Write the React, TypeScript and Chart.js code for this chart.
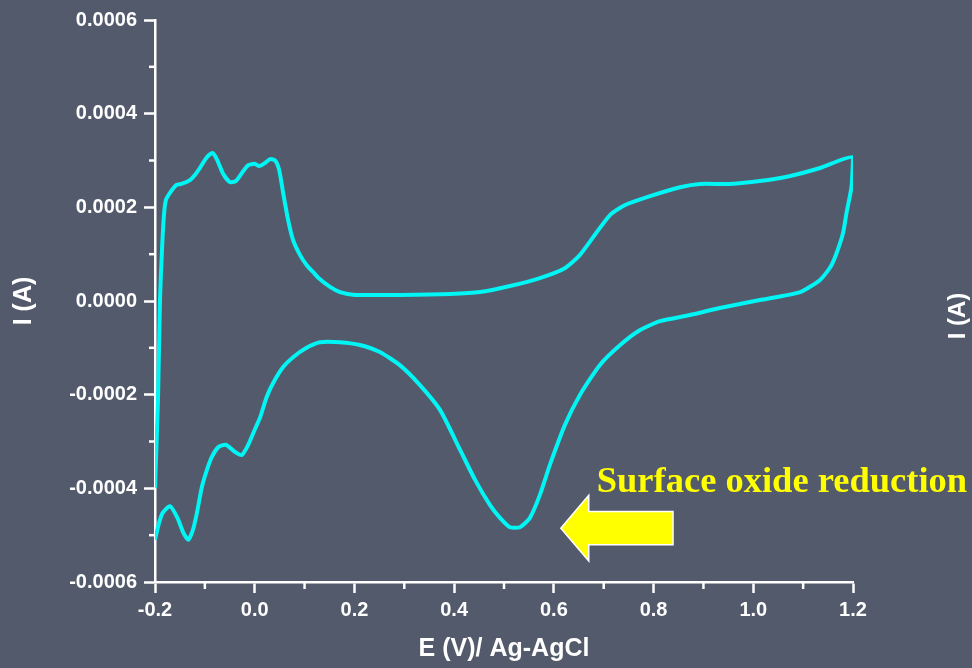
import React, { useEffect, useRef } from "react";
import { Chart, registerables } from "chart.js";

Chart.register(...registerables);

// Anodic (forward) sweep: potential (V vs Ag/AgCl) and current (A)
const anodicE = [
  -0.2, -0.194, -0.19, -0.186, -0.182, -0.178, -0.17, -0.157, -0.147, -0.13, -0.12, -0.11,
  -0.096, -0.085, -0.076, -0.064, -0.05, -0.038, -0.026, -0.013, 0.0, 0.009, 0.021, 0.031,
  0.041, 0.049, 0.057, 0.067, 0.077, 0.091, 0.104, 0.117, 0.128, 0.151, 0.171, 0.201, 0.291,
  0.392, 0.452, 0.512, 0.572, 0.622, 0.652, 0.682, 0.713, 0.743, 0.793, 0.853, 0.893, 0.953,
  1.013, 1.074, 1.134, 1.2,
];
const anodicI = [
  -3.99e-4, -2.11e-4, 0.02e-4, 1.09e-4, 1.84e-4, 2.16e-4, 2.31e-4, 2.48e-4, 2.5e-4, 2.58e-4,
  2.69e-4, 2.84e-4, 3.07e-4, 3.16e-4, 3.03e-4, 2.73e-4, 2.54e-4, 2.56e-4, 2.73e-4, 2.9e-4,
  2.93e-4, 2.88e-4, 2.95e-4, 3.03e-4, 3.0e-4, 2.8e-4, 2.31e-4, 1.73e-4, 1.3e-4, 0.98e-4,
  0.77e-4, 0.62e-4, 0.49e-4, 0.3e-4, 0.19e-4, 0.13e-4, 0.13e-4, 0.15e-4, 0.19e-4, 0.32e-4,
  0.49e-4, 0.7e-4, 0.98e-4, 1.41e-4, 1.84e-4, 2.05e-4, 2.24e-4, 2.43e-4, 2.5e-4, 2.5e-4,
  2.56e-4, 2.67e-4, 2.84e-4, 3.07e-4,
];

// Cathodic (reverse) sweep
const cathodicE = [
  1.197, 1.187, 1.18, 1.167, 1.155, 1.134, 1.094, 1.013, 0.933, 0.873, 0.813, 0.773, 0.733,
  0.692, 0.652, 0.622, 0.592, 0.572, 0.552, 0.532, 0.512, 0.492, 0.472, 0.442, 0.412, 0.372,
  0.331, 0.291, 0.251, 0.211, 0.171, 0.131, 0.104, 0.077, 0.057, 0.037, 0.024, 0.011, 0.0,
  -0.013, -0.026, -0.04, -0.058, -0.073, -0.086, -0.096, -0.106, -0.116, -0.124, -0.133,
  -0.143, -0.155, -0.17, -0.185, -0.193, -0.2,
];
const cathodicI = [
  2.44e-4, 1.88e-4, 1.45e-4, 1.02e-4, 0.73e-4, 0.45e-4, 0.19e-4, 0.02e-4, -0.15e-4, -0.3e-4,
  -0.43e-4, -0.62e-4, -0.94e-4, -1.37e-4, -2.01e-4, -2.65e-4, -3.5e-4, -4.14e-4, -4.63e-4,
  -4.83e-4, -4.83e-4, -4.63e-4, -4.36e-4, -3.82e-4, -3.18e-4, -2.33e-4, -1.79e-4, -1.37e-4,
  -1.09e-4, -0.94e-4, -0.88e-4, -0.88e-4, -1.0e-4, -1.2e-4, -1.41e-4, -1.75e-4, -2.05e-4,
  -2.48e-4, -2.75e-4, -3.07e-4, -3.29e-4, -3.22e-4, -3.07e-4, -3.12e-4, -3.33e-4, -3.61e-4,
  -3.97e-4, -4.53e-4, -4.89e-4, -5.1e-4, -4.95e-4, -4.63e-4, -4.38e-4, -4.53e-4, -4.78e-4,
  -5.1e-4,
];

// Axis ranges / tick steps
const xRange = [-0.2, 1.2];
const xMinorStep = 0.1;
const yRange = [-0.0006, 0.0006];
const yMinorStep = 0.0001;

const xTitle = "E (V)/ Ag-AgCl";
const yTitle = "I (A)";
const annotationText = "Surface oxide reduction";
const strayText = "I (A)";

// Annotation arrow anchor points in data units (E, I)
const arrowTip = [0.614, -4.85e-4];
const arrowHeadBack = 0.67;
const arrowHeadHalf = 0.7e-4;
const arrowShaftHalf = 0.355e-4;
const arrowTail = 0.839;
const textAnchor = [0.686, -4.08e-4];

const BG = "#525a6b";
const CYAN = "#00f5f5";
const SANS = "'Liberation Sans', Arial, sans-serif";

export default function App() {
  const ref = useRef<HTMLCanvasElement | null>(null);

  useEffect(() => {
    const canvas = ref.current;
    if (!canvas) return;

    const points = [
      ...anodicE.map((e, i) => ({ x: e, y: anodicI[i] })),
      ...cathodicE.map((e, i) => ({ x: e, y: cathodicI[i] })),
    ];

    const isMajor = (v: number, step: number) => Math.abs(Math.round(v / step)) % 2 === 0;
    const fmt = (v: number, step: number, digits: number) => {
      const r = Math.round(v / step) * step;
      return Math.abs(r) < step / 10 ? (0).toFixed(digits) : r.toFixed(digits);
    };

    const bgPlugin = {
      id: "bg",
      beforeDraw(chart: any) {
        const { ctx, width, height } = chart;
        ctx.save();
        ctx.fillStyle = BG;
        ctx.fillRect(0, 0, width, height);
        ctx.restore();
      },
    };

    const extrasPlugin = {
      id: "extras",
      afterDraw(chart: any) {
        const { ctx, scales, chartArea } = chart;
        const xs = scales.x;
        const ys = scales.y;
        ctx.save();
        // minor ticks
        ctx.strokeStyle = "#ffffff";
        ctx.lineWidth = 2.5;
        const nx = Math.round((xRange[1] - xRange[0]) / xMinorStep);
        for (let k = 0; k <= nx; k++) {
          const v = xRange[0] + k * xMinorStep;
          if (isMajor(v, xMinorStep)) continue;
          const px = xs.getPixelForValue(v);
          ctx.beginPath();
          ctx.moveTo(px, chartArea.bottom);
          ctx.lineTo(px, chartArea.bottom + 7);
          ctx.stroke();
        }
        const ny = Math.round((yRange[1] - yRange[0]) / yMinorStep);
        for (let k = 0; k <= ny; k++) {
          const v = yRange[0] + k * yMinorStep;
          if (isMajor(v, yMinorStep)) continue;
          const py = ys.getPixelForValue(v);
          ctx.beginPath();
          ctx.moveTo(chartArea.left, py);
          ctx.lineTo(chartArea.left - 6, py);
          ctx.stroke();
        }

        // arrow
        const tx = xs.getPixelForValue(arrowTip[0]);
        const ty = ys.getPixelForValue(arrowTip[1]);
        const hb = xs.getPixelForValue(arrowHeadBack);
        const tail = xs.getPixelForValue(arrowTail);
        const hTop = ys.getPixelForValue(arrowTip[1] + arrowHeadHalf);
        const hBot = ys.getPixelForValue(arrowTip[1] - arrowHeadHalf);
        const sTop = ys.getPixelForValue(arrowTip[1] + arrowShaftHalf);
        const sBot = ys.getPixelForValue(arrowTip[1] - arrowShaftHalf);
        ctx.beginPath();
        ctx.moveTo(tx, ty);
        ctx.lineTo(hb, hTop);
        ctx.lineTo(hb, sTop);
        ctx.lineTo(tail, sTop);
        ctx.lineTo(tail, sBot);
        ctx.lineTo(hb, sBot);
        ctx.lineTo(hb, hBot);
        ctx.closePath();
        ctx.fillStyle = "#ffff00";
        ctx.fill();
        ctx.strokeStyle = "#ffffff";
        ctx.lineWidth = 1.5;
        ctx.stroke();

        // annotation text
        ctx.fillStyle = "#ffff00";
        ctx.font = "bold 36.5px 'Liberation Serif', 'DejaVu Serif', serif";
        ctx.textAlign = "left";
        ctx.textBaseline = "alphabetic";
        ctx.fillText(
          annotationText,
          xs.getPixelForValue(textAnchor[0]),
          ys.getPixelForValue(textAnchor[1])
        );

        // fragment of a neighbouring axis title at the right edge
        ctx.translate(chart.width - 14, (chartArea.top + chartArea.bottom) / 2 + 15);
        ctx.rotate(-Math.PI / 2);
        ctx.fillStyle = "#ffffff";
        ctx.font = "bold 24px " + SANS;
        ctx.textAlign = "center";
        ctx.textBaseline = "middle";
        ctx.fillText(strayText, 0, 0);
        ctx.restore();
      },
    };

    const tickFont = { family: SANS, size: 20, weight: "bold" as const };
    const titleFont = { family: SANS, size: 25, weight: "bold" as const };

    const chart = new Chart(canvas, {
      type: "scatter",
      data: {
        datasets: [
          {
            data: points,
            showLine: true,
            borderColor: CYAN,
            borderWidth: 4,
            pointRadius: 0,
            tension: 0.2,
            fill: false,
          },
        ],
      },
      options: {
        responsive: false,
        animation: false,
        layout: { padding: { left: 0, right: 119, top: 20, bottom: 0 } },
        plugins: { legend: { display: false }, tooltip: { enabled: false } },
        scales: {
          x: {
            type: "linear",
            min: xRange[0],
            max: xRange[1],
            afterFit: (s: any) => {
              s.height = 86;
            },
            border: { display: true, color: "#ffffff", width: 2.5 },
            grid: {
              display: true,
              drawOnChartArea: false,
              drawTicks: true,
              tickLength: 11,
              tickWidth: 2.5,
              tickColor: (c: any) =>
                c.tick && isMajor(c.tick.value, xMinorStep) ? "#ffffff" : "rgba(0,0,0,0)",
            },
            ticks: {
              stepSize: xMinorStep,
              color: "#ffffff",
              font: tickFont,
              padding: 5,
              maxRotation: 0,
              autoSkip: false,
              callback: (v: any) =>
                isMajor(Number(v), xMinorStep) ? fmt(Number(v), xMinorStep, 1) : "",
            },
            title: {
              display: true,
              text: xTitle,
              color: "#ffffff",
              font: titleFont,
              padding: { top: 0, bottom: 4 },
            },
          },
          y: {
            type: "linear",
            min: yRange[0],
            max: yRange[1],
            afterFit: (s: any) => {
              s.width = 155;
            },
            border: { display: true, color: "#ffffff", width: 2.5 },
            grid: {
              display: true,
              drawOnChartArea: false,
              drawTicks: true,
              tickLength: 11,
              tickWidth: 2.5,
              tickColor: (c: any) =>
                c.tick && isMajor(c.tick.value, yMinorStep) ? "#ffffff" : "rgba(0,0,0,0)",
            },
            ticks: {
              stepSize: yMinorStep,
              color: "#ffffff",
              font: tickFont,
              padding: 7,
              autoSkip: false,
              callback: (v: any) =>
                isMajor(Number(v), yMinorStep) ? fmt(Number(v), yMinorStep, 4) : "",
            },
            title: {
              display: true,
              text: yTitle,
              color: "#ffffff",
              font: titleFont,
              padding: { top: 9, bottom: 0 },
            },
          },
        },
      },
      plugins: [bgPlugin, extrasPlugin],
    });

    return () => chart.destroy();
  }, []);

  return (
    <div style={{ position: "fixed", left: 0, top: 0, width: 972, height: 668, background: BG }}>
      <canvas ref={ref} width={972} height={668} style={{ display: "block", width: 972, height: 668 }} />
    </div>
  );
}
